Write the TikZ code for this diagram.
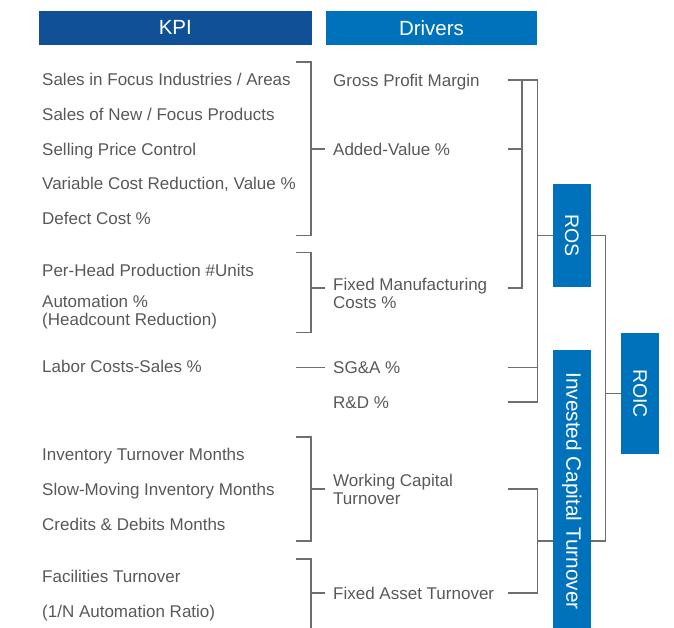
\documentclass[tikz,border=0pt]{standalone}
\usepackage{fontspec}
\setmainfont{Liberation Sans}
\definecolor{kpiblue}{RGB}{16,80,150}
\definecolor{drvblue}{RGB}{0,114,188}
\definecolor{txtgray}{RGB}{88,88,88}
\definecolor{lngray}{RGB}{110,110,110}
\newcommand{\twoln}[2]{\parbox[t]{7cm}{#1\\#2}}
\begin{document}
\begin{tikzpicture}[x=1pt,y=-1pt,
  lbl/.style={anchor=base west, inner sep=0pt, text=txtgray, font=\fontsize{17}{17.5}\selectfont},
  hdr/.style={inner sep=0pt, text=white, font=\fontsize{20.5}{22}\selectfont, minimum height=33.5pt},
  vbox/.style={fill=drvblue, inner sep=0pt, text=white, minimum width=37.7pt},
  vtext/.style={rotate=-90, text=white, inner sep=0pt, font=\fontsize{19.5}{21}\selectfont},
  conn/.style={draw=lngray, line width=1.2pt}]
\useasboundingbox (0,0) rectangle (674,628);
% headers
\node[hdr, fill=kpiblue, minimum width=272.5pt] (kpi) at (175.3,27.8) {KPI};
\node[hdr, fill=drvblue, minimum width=211pt] (drv) at (431.5,27.8) {Drivers};
% KPI labels
\node[lbl] (k1) at (42,85.8) {Sales in Focus Industries / Areas};
\node[lbl] (k2) at (42,120.8) {Sales of New / Focus Products};
\node[lbl] (k3) at (42,155.8) {Selling Price Control};
\node[lbl] (k4) at (42,189.8) {Variable Cost Reduction, Value \%};
\node[lbl] (k5) at (42,224.8) {Defect Cost \%};
\node[lbl] (k6) at (42,276.8) {Per-Head Production \#Units};
\node[lbl] (k7) at (42,307.7) {\twoln{Automation \%}{(Headcount Reduction)}};
\node[lbl] (k8) at (42,372.5) {Labor Costs-Sales \%};
\node[lbl] (k9) at (42,460.5) {Inventory Turnover Months};
\node[lbl] (k10) at (42,495.5) {Slow-Moving Inventory Months};
\node[lbl] (k11) at (42,530.5) {Credits \& Debits Months};
\node[lbl] (k12) at (42,582.5) {Facilities Turnover};
\node[lbl] (k13) at (42,617.5) {(1/N Automation Ratio)};
% Driver labels
\node[lbl] (d1) at (333,86.5) {Gross Profit Margin};
\node[lbl] (d2) at (333,155.5) {Added-Value \%};
\node[lbl] (d3) at (333,290.5) {\twoln{Fixed Manufacturing}{Costs \%}};
\node[lbl] (d4) at (333,373.5) {SG\&A \%};
\node[lbl] (d5) at (333,408.5) {R\&D \%};
\node[lbl] (d6) at (333,486.5) {\twoln{Working Capital}{Turnover}};
\node[lbl] (d7) at (333,599.5) {Fixed Asset Turnover};
% result boxes
\node[vbox, minimum height=103pt] (ros) at (571.85,235.5) {};
\node[vtext] (rost) at (ros.center) {ROS};
\node[vbox, minimum height=278pt] (ict) at (571.85,489) {};
\node[vtext, font=\fontsize{20.8}{22}\selectfont] (ictt) at (571.85,491) {Invested Capital Turnover};
\node[vbox, minimum height=121pt] (roic) at (640,393.5) {};
\node[vtext] (roict) at (roic.center) {ROIC};
% KPI brackets
\coordinate (b1t) at (296,62);   \coordinate (b1b) at (296,235.5);
\coordinate (b1m) at (311,149);  \coordinate (d2l) at (325,149);
\draw[conn] (b1t) -- ++(15,0) |- (b1b);
\draw[conn] (b1m) -- (d2l);
\coordinate (b2t) at (296,252.5); \coordinate (b2b) at (296,332.5);
\coordinate (b2m) at (311,288);   \coordinate (d3l) at (325,288);
\draw[conn] (b2t) -- ++(15,0) |- (b2b);
\draw[conn] (b2m) -- (d3l);
\coordinate (k8r) at (296,367.5); \coordinate (d4l) at (325,367.5);
\draw[conn] (k8r) -- (d4l);
\coordinate (b3t) at (296,437);   \coordinate (b3b) at (296,541);
\coordinate (b3m) at (311,489);   \coordinate (d6l) at (325,489);
\draw[conn] (b3t) -- ++(15,0) |- (b3b);
\draw[conn] (b3m) -- (d6l);
\coordinate (b4t) at (296,559);   \coordinate (b4b) at (311,629);
\coordinate (b4m) at (311,593);   \coordinate (d7l) at (325,593);
\draw[conn] (b4t) -| (b4b);
\draw[conn] (b4m) -- (d7l);
% driver connectors
\coordinate (d1r) at (508,80);   \coordinate (j1) at (537.7,80);
\coordinate (d2r) at (508,149);  \coordinate (d3r) at (508,288);
\coordinate (d4r) at (508,367.5);\coordinate (d5r) at (508,402);
\coordinate (d6r) at (508,489);  \coordinate (d7r) at (508,593);
\coordinate (i1) at (522,80);
\draw[conn] (d1r) -- (j1) -- (j1 |- d5r) -- (d5r);
\draw[conn] (i1) |- (d3r);
\draw[conn] (d2r) -- (i1 |- d2r);
\draw[conn] (d4r) -- (j1 |- d4r);
\draw[conn] (j1 |- ros.west) -- (ros.west);
\draw[conn] (d6r) -- (j1 |- d6r) |- (d7r);
\draw[conn] (j1 |- 0,541) -- (ict.west |- 0,541);
% ROIC connectors
\coordinate (r1) at (605.7,235.5);
\draw[conn] (ros.east) -- (r1) |- (ict.east |- 0,541);
\draw[conn] (r1 |- roic.west) -- (roic.west);
\end{tikzpicture}
\end{document}
